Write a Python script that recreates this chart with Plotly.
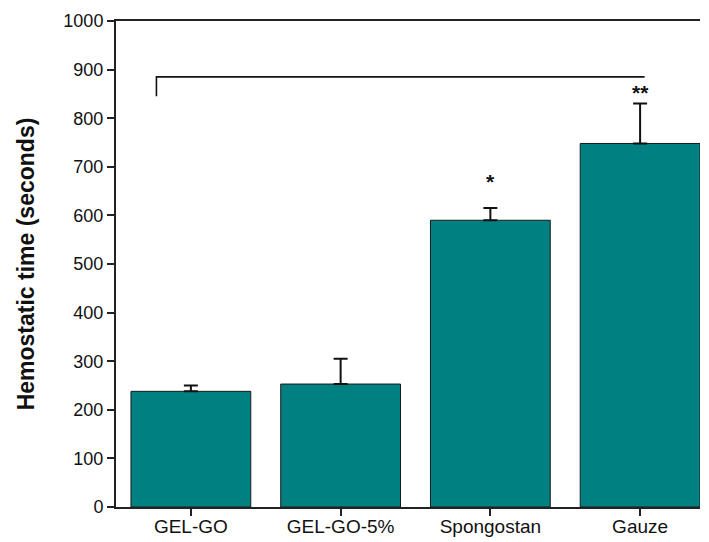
import plotly.graph_objects as go

categories = ["GEL-GO", "GEL-GO-5%", "Spongostan", "Gauze"]
means = [238, 253, 590, 748]
errors = [12, 52, 25, 82]
stars = ["", "", "*", "**"]
star_y = [0, 0, 670, 853]
bracket_x = [-0.23, -0.23, 3.03]
bracket_y = [845, 885, 885]
yticks = list(range(0, 1001, 100))

xpos = list(range(len(categories)))

fig = go.Figure()
fig.add_trace(go.Bar(
    x=xpos, y=means, width=0.8,
    marker=dict(color="#008080", line=dict(color="#1a1a1a", width=1)),
    error_y=dict(type="data", array=errors, arrayminus=[0]*len(errors), symmetric=False,
                 color="#111111", thickness=2, width=7),
    showlegend=False,
))
fig.add_trace(go.Scatter(
    x=bracket_x, y=bracket_y, mode="lines",
    line=dict(color="#111111", width=1.6), showlegend=False, hoverinfo="skip",
))
for i, s in enumerate(stars):
    if s:
        fig.add_annotation(x=xpos[i], y=star_y[i], text="<b>" + s + "</b>", showarrow=False,
                           font=dict(size=21, color="#111111", family="Liberation Sans"),
                           yanchor="middle")

fig.update_layout(
    width=709, height=542,
    margin=dict(l=116, r=9, t=21, b=35, autoexpand=False),
    paper_bgcolor="white", plot_bgcolor="white",
    font=dict(family="Liberation Sans, Arial, sans-serif", size=18, color="#111111"),
    bargap=0.2,
)
fig.update_xaxes(
    range=[-0.5, 3.4], tickvals=xpos, ticktext=categories,
    showline=True, linecolor="#222222", linewidth=2, mirror=True,
    ticks="outside", ticklen=7, tickwidth=2, tickcolor="#222222",
    showgrid=False, zeroline=False, tickfont=dict(size=19), automargin=False,
    ticklabelstandoff=-6,
)
fig.update_yaxes(
    range=[0, 1000], tickvals=yticks,
    showline=True, linecolor="#222222", linewidth=2,
    ticks="outside", ticklen=7, tickwidth=2, tickcolor="#222222",
    showgrid=False, zeroline=False, tickfont=dict(size=18), automargin=False,
    title=dict(text="<b>Hemostatic time (seconds)</b>", font=dict(size=23), standoff=22),
)

fig.write_html("out.html")
